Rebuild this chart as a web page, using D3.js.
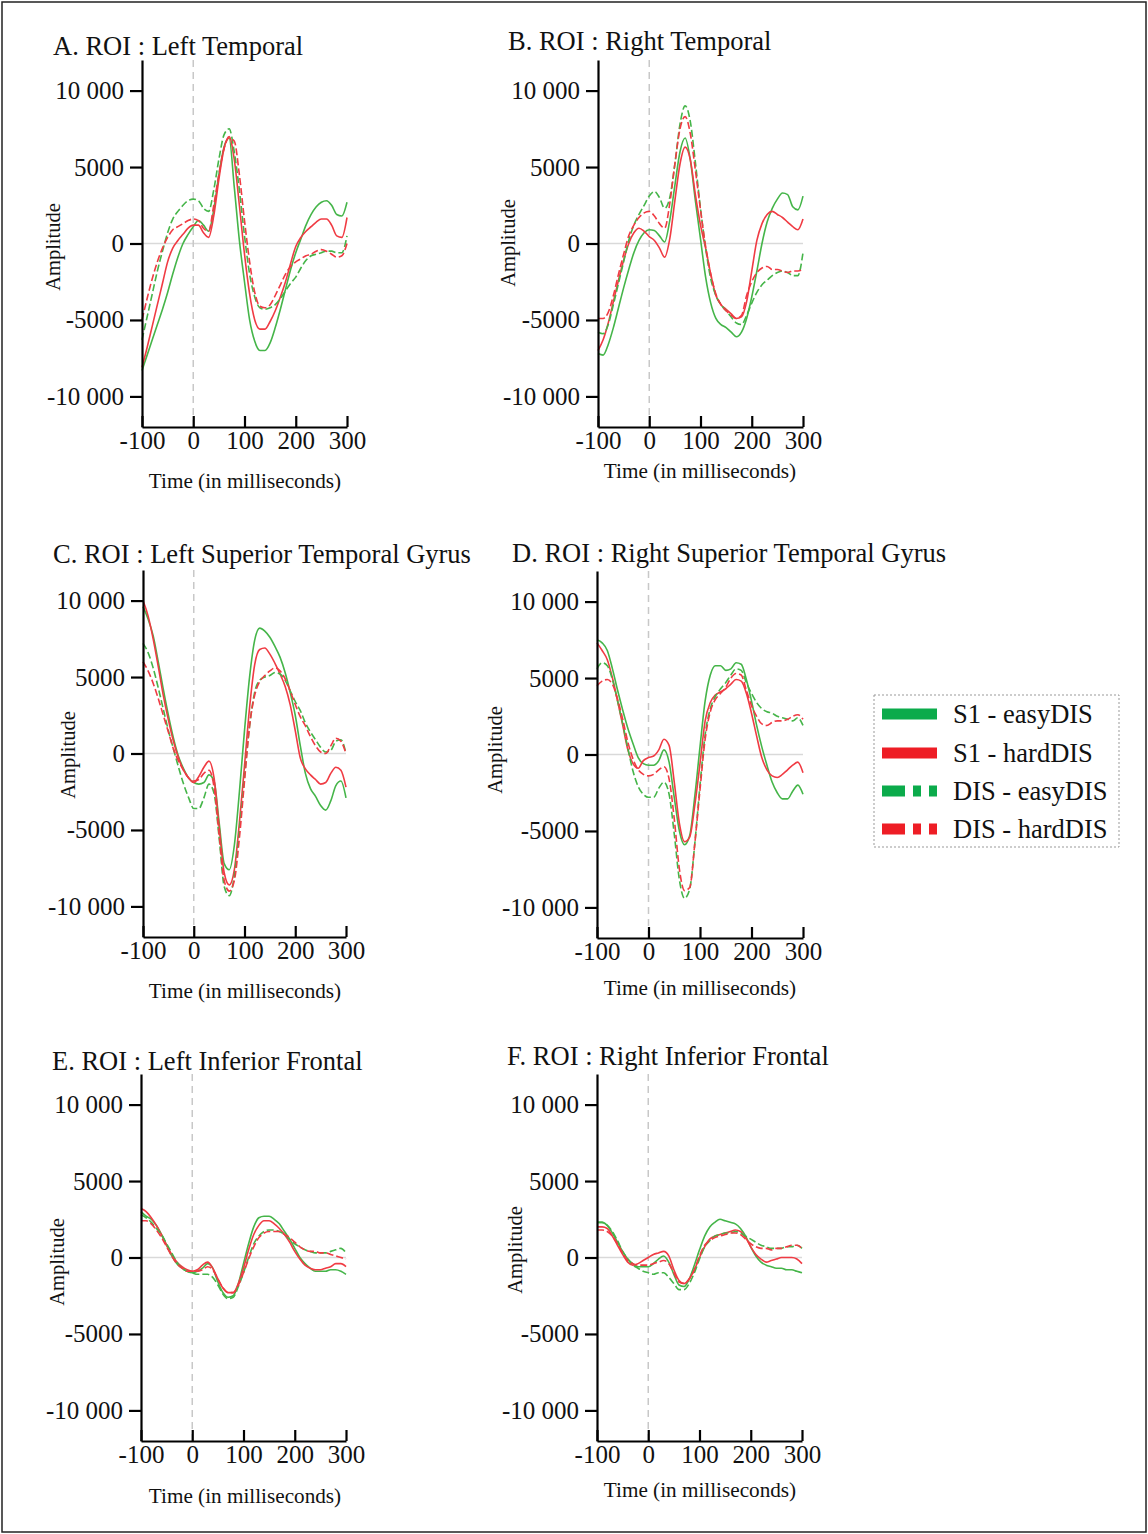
<!DOCTYPE html>
<html>
<head>
<meta charset="utf-8">
<script src="https://cdn.jsdelivr.net/npm/d3@7"></script>
<style>
  body { margin: 0; background: #fff; }
  text { font-family: "Liberation Serif", "Times New Roman", serif; fill: #111; }
</style>
</head>
<body>
<div id="chart"></div>
<script>
// sample times (ms)
const times = [-100, -90, -80, -70, -60, -50, -40, -30, -20, -10, 0, 10, 20, 30, 40, 50, 60, 70, 80, 90, 100,
  110, 120, 130, 140, 150, 160, 170, 180, 190, 200, 210, 220, 230, 240, 250, 260, 270, 280, 290, 300];

const seriesNames = ["S1 - easyDIS", "S1 - hardDIS", "DIS - easyDIS", "DIS - hardDIS"];
const panelTitles = ["A. ROI : Left Temporal", "B. ROI : Right Temporal", "C. ROI : Left Superior Temporal Gyrus",
  "D. ROI : Right Superior Temporal Gyrus", "E. ROI : Left Inferior Frontal", "F. ROI : Right Inferior Frontal"];
const yTicks = [-10000, -5000, 0, 5000, 10000];
const xTicks = [-100, 0, 100, 200, 300];

// A. Left Temporal
const ltS1Easy = [-8300, -7300, -6300, -5300, -4300, -3200, -2000, -900, 0, 600, 1100, 1500, 1200, 800, 2200, 4500, 6300, 6900, 3700, 200, -2500,
  -5000, -6400, -7000, -7000, -6500, -5500, -4300, -3000, -1700, -600, 300, 1200, 1900, 2400, 2700, 2800, 2500, 1900, 1800, 2700];
const ltS1Hard = [-8100, -6800, -5400, -4000, -2600, -1200, -300, 200, 600, 1000, 1200, 1200, 700, 400, 1800, 4200, 6200, 7000, 5500, 2500, -700,
  -3300, -5000, -5600, -5600, -5100, -4400, -3500, -2500, -1300, -200, 400, 800, 1100, 1400, 1600, 1600, 1200, 500, 400, 1700];
const ltDisEasy = [-6300, -4800, -3300, -1800, -500, 700, 1600, 2100, 2500, 2800, 2900, 2800, 2300, 2100, 3500, 5500, 7100, 7500, 6000, 3500, 500,
  -2000, -3500, -4200, -4300, -4200, -4000, -3600, -3100, -2600, -2200, -1600, -1100, -800, -700, -600, -500, -500, -600, -600, 500];
const ltDisHard = [-5000, -3600, -2300, -1200, -300, 400, 900, 1100, 1300, 1500, 1600, 1500, 1000, 800, 2500, 4500, 6200, 6900, 6700, 4500, 1500,
  -1200, -3200, -4100, -4200, -4000, -3400, -2700, -2000, -1500, -1200, -1000, -800, -700, -500, -400, -500, -700, -900, -800, 0];

// B. Right Temporal
const rtS1Easy = [-7200, -7300, -6600, -5500, -4200, -2900, -1700, -600, 200, 700, 900, 850, 500, 100, 1500, 3800, 6000, 6900, 5500, 2800, 300,
  -2200, -3900, -4900, -5300, -5500, -5800, -6100, -5800, -4900, -3500, -1800, 0, 1400, 2300, 2900, 3300, 3200, 2400, 2200, 3100];
const rtS1Hard = [-7000, -6300, -5200, -3800, -2400, -1100, 0, 700, 1000, 800, 450, 200, -300, -900, 300, 2800, 5200, 6300, 5500, 3200, 1200,
  -300, -2000, -3400, -4000, -4300, -4600, -4900, -4800, -3800, -1800, 200, 1300, 1900, 2100, 1900, 1700, 1400, 1100, 900, 1600];
const rtDisEasy = [-5800, -5900, -5300, -4000, -2600, -1200, 200, 1200, 1900, 2500, 3100, 3400, 3000, 2300, 3000, 5200, 7800, 9000, 8000, 5300, 2300,
  -300, -2300, -3400, -4000, -4400, -4800, -5200, -5300, -4700, -3900, -3200, -2700, -2400, -2100, -1900, -1800, -1900, -2100, -2100, -600];
const rtDisHard = [-4900, -4900, -4500, -3400, -2000, -700, 500, 1200, 1700, 2000, 2100, 1800, 1300, 1000, 2600, 5200, 7500, 8300, 7200, 4800, 2200,
  -200, -2000, -3300, -4000, -4400, -4700, -4900, -4700, -3400, -2500, -1900, -1600, -1500, -1700, -1700, -1800, -1900, -1800, -1800, -1700];

// C. Left Superior Temporal Gyrus
const lstgS1Easy = [9600, 8800, 7700, 6000, 4200, 2500, 1000, -200, -1000, -1600, -1900, -2000, -1900, -1400, -1800, -4500, -7200, -7600, -6000, -2500, 1500,
  5000, 7400, 8200, 8000, 7600, 7000, 6300, 5300, 4000, 2500, 500, -1300, -2300, -2800, -3400, -3700, -3100, -2100, -1800, -2900];
const lstgS1Hard = [10000, 9000, 7500, 5700, 3800, 2200, 800, -300, -1100, -1600, -1900, -1500, -900, -500, -1600, -4800, -7800, -8600, -7600, -4500, -800,
  3000, 5800, 6800, 6900, 6500, 5900, 5200, 4400, 3200, 1500, -300, -1000, -1400, -1700, -2000, -1900, -1300, -900, -1100, -2200];
const lstgDisEasy = [7200, 6600, 5600, 4300, 2900, 1500, 300, -900, -2000, -2900, -3600, -3600, -2900, -2000, -2600, -5500, -8700, -9300, -8000, -5000, -1500,
  1800, 4000, 4800, 5000, 5100, 5300, 5200, 4800, 4100, 3400, 2800, 2000, 1400, 900, 400, 100, 200, 800, 900, 0];
const lstgDisHard = [6000, 5400, 4600, 3600, 2500, 1400, 300, -500, -1100, -1600, -1800, -1700, -1300, -1100, -2200, -5300, -8300, -9000, -8300, -5500, -1800,
  1800, 3800, 4700, 5100, 5400, 5600, 5400, 4900, 4100, 3200, 2400, 1800, 1100, 500, 100, 0, 500, 1000, 800, 0];

// D. Right Superior Temporal Gyrus
const rstgS1Easy = [7500, 7300, 6800, 5600, 4200, 2900, 1700, 700, -200, -600, -700, -700, -400, 300, -500, -2800, -5000, -5900, -5300, -2700, 500,
  3500, 5200, 5800, 5800, 5500, 5600, 6000, 5900, 4900, 3500, 1900, 500, -700, -1800, -2500, -2900, -2900, -2400, -2000, -2600];
const rstgS1Hard = [7300, 6800, 6200, 5000, 3500, 1900, 300, -600, -900, -400, -200, -100, 300, 1000, 600, -1800, -4500, -5700, -5400, -3300, -600,
  2200, 3400, 3900, 4100, 4300, 4600, 4900, 4800, 4000, 2700, 1200, -200, -1000, -1400, -1500, -1300, -1000, -700, -500, -1200];
const rstgDisEasy = [5600, 6000, 5800, 4900, 3500, 2000, 400, -1100, -2100, -2600, -2800, -2800, -2200, -1800, -2600, -5200, -8200, -9400, -8800, -5800, -2000,
  1300, 3000, 3800, 4300, 4700, 5200, 5600, 5500, 4700, 4000, 3400, 3000, 2800, 2700, 2500, 2400, 2300, 2200, 2400, 1900];
const rstgDisHard = [4500, 4800, 4900, 4600, 3600, 2300, 800, -300, -1000, -1300, -1400, -1300, -1000, -800, -1600, -4200, -7500, -8900, -8700, -5800, -2300,
  1000, 2800, 3600, 4000, 4400, 5000, 5300, 5200, 4200, 3200, 2500, 2000, 1900, 2100, 2200, 2200, 2300, 2500, 2600, 2300];

// E. Left Inferior Frontal
const lifS1Easy = [3000, 2700, 2500, 2100, 1500, 800, 100, -400, -700, -900, -1000, -900, -700, -400, -700, -1600, -2300, -2600, -2500, -1700, -400,
  900, 2000, 2600, 2700, 2700, 2500, 2200, 1700, 1200, 600, 0, -400, -700, -900, -900, -900, -800, -800, -900, -1100];
const lifS1Hard = [3200, 3000, 2600, 2100, 1500, 800, 200, -300, -600, -800, -900, -800, -500, -300, -700, -1400, -2000, -2300, -2300, -1700, -700,
  500, 1500, 2100, 2400, 2400, 2200, 1900, 1500, 1000, 400, -100, -500, -700, -800, -800, -700, -600, -400, -400, -600];
const lifDisEasy = [2800, 2600, 2300, 1900, 1500, 900, 300, -300, -700, -900, -1000, -1100, -1100, -1100, -1300, -1800, -2400, -2700, -2600, -1900, -1000,
  0, 900, 1400, 1700, 1800, 1800, 1700, 1500, 1200, 900, 700, 500, 400, 300, 300, 300, 400, 500, 600, 300];
const lifDisHard = [2400, 2400, 2200, 1800, 1300, 700, 100, -400, -700, -900, -900, -900, -800, -600, -800, -1400, -2000, -2300, -2300, -1800, -1000,
  -100, 700, 1300, 1600, 1700, 1700, 1700, 1500, 1300, 1000, 700, 500, 400, 400, 300, 300, 200, 100, 0, -100];

// F. Right Inferior Frontal
const rifS1Easy = [2300, 2300, 2100, 1600, 1000, 400, -100, -400, -600, -600, -600, -400, -100, 100, -300, -1100, -1800, -1900, -1400, -500, 500,
  1400, 2000, 2300, 2500, 2400, 2300, 2200, 1900, 1400, 700, 100, -300, -500, -600, -700, -700, -800, -800, -900, -1000];
const rifS1Hard = [2000, 2000, 1900, 1400, 800, 200, -300, -500, -400, -200, 0, 200, 300, 400, 100, -800, -1500, -1700, -1400, -800, 0,
  700, 1200, 1400, 1500, 1600, 1700, 1800, 1700, 1300, 700, 200, -100, -300, -200, -100, 0, 0, 0, -100, -400];
const rifDisEasy = [2300, 2300, 2100, 1700, 1100, 400, -100, -500, -700, -900, -1000, -1100, -1000, -1000, -1300, -1700, -2100, -2100, -1700, -1000, -100,
  700, 1100, 1400, 1500, 1600, 1600, 1700, 1600, 1400, 1200, 1000, 800, 700, 600, 600, 600, 700, 700, 800, 600];
const rifDisHard = [1800, 1800, 1700, 1400, 900, 300, -200, -400, -500, -500, -500, -400, -300, -200, -400, -1000, -1600, -1700, -1400, -800, 100,
  800, 1100, 1300, 1400, 1500, 1600, 1600, 1500, 1200, 900, 700, 600, 600, 500, 600, 600, 700, 800, 800, 600];

const panelSeries = [
  [ltS1Easy, ltS1Hard, ltDisEasy, ltDisHard],
  [rtS1Easy, rtS1Hard, rtDisEasy, rtDisHard],
  [lstgS1Easy, lstgS1Hard, lstgDisEasy, lstgDisHard],
  [rstgS1Easy, rstgS1Hard, rstgDisEasy, rstgDisHard],
  [lifS1Easy, lifS1Hard, lifDisEasy, lifDisHard],
  [rifS1Easy, rifS1Hard, rifDisEasy, rifDisHard]
];

// placement of each panel on the page
const layout = [
  { x0: 142, x1: 347, bottom: 427, tx: 53, ty: 55, ax: 53, ay: 247, lx: 245, ly: 488 },
  { x0: 598, x1: 803, bottom: 427, tx: 508, ty: 50, ax: 508, ay: 243, lx: 700, ly: 478 },
  { x0: 143, x1: 346, bottom: 937, tx: 53, ty: 563, ax: 68, ay: 755, lx: 245, ly: 998 },
  { x0: 597, x1: 803, bottom: 938, tx: 512, ty: 562, ax: 495, ay: 750, lx: 700, ly: 995 },
  { x0: 141, x1: 346, bottom: 1441, tx: 52, ty: 1070, ax: 57, ay: 1262, lx: 245, ly: 1503 },
  { x0: 597, x1: 802, bottom: 1441, tx: 507, ty: 1065, ax: 515, ay: 1250, lx: 700, ly: 1497 }
];
const plotH = 367;

const lineColors = ["#45b549", "#f03b43", "#45b549", "#f03b43"];
const legendColors = ["#0bab4b", "#ee1d25", "#0bab4b", "#ee1d25"];

const W = 1148, H = 1534;

const svg = d3.select("#chart").append("svg")
  .attr("width", W)
  .attr("height", H);

// cornice esterna
svg.append("rect")
  .attr("x", 2).attr("y", 2)
  .attr("width", W - 4).attr("height", H - 4)
  .attr("fill", "none")
  .attr("stroke", "#222")
  .attr("stroke-width", 1.5);

const loc = d3.formatLocale({ decimal: ".", thousands: " ", grouping: [3], currency: ["", ""], minus: "-" });
const fmtBig = loc.format(",");
const fmtSmall = loc.format("d");
const yFormat = d => Math.abs(d) >= 10000 ? fmtBig(d) : fmtSmall(d);

panelSeries.forEach((series, i) => {
  const L = layout[i];

  const x = d3.scaleLinear().domain([-100, 300]).range([L.x0, L.x1]);
  const y = d3.scaleLinear().domain([-12000, 12000]).range([L.bottom, L.bottom - plotH]);

  const g = svg.append("g");

  // linea dello zero
  g.append("line")
    .attr("x1", L.x0).attr("x2", L.x1)
    .attr("y1", y(0)).attr("y2", y(0))
    .attr("stroke", "#d9d9d9").attr("stroke-width", 1.5);

  // linea tratteggiata a t = 0
  g.append("line")
    .attr("x1", x(0)).attr("x2", x(0))
    .attr("y1", L.bottom - plotH).attr("y2", L.bottom)
    .attr("stroke", "#c8c8c8").attr("stroke-width", 1.5)
    .attr("stroke-dasharray", "7,5");

  const line = d3.line()
    .x((d, k) => x(times[k]))
    .y(d => y(d))
    .curve(d3.curveMonotoneX);

  series.forEach((vals, s) => {
    g.append("path")
      .datum(vals)
      .attr("fill", "none")
      .attr("stroke", lineColors[s])
      .attr("stroke-width", 1.6)
      .attr("stroke-dasharray", s >= 2 ? "7,3" : null)
      .attr("d", line);
  });

  // asse Y
  const yAxis = g.append("g")
    .attr("transform", `translate(${L.x0},0)`)
    .call(d3.axisLeft(y).tickValues(yTicks).tickFormat(yFormat).tickSize(12).tickSizeOuter(0).tickPadding(6));
  yAxis.selectAll("text").style("font-size", "25px");

  // asse X (tacche verso l'interno)
  const xAxis = g.append("g")
    .attr("transform", `translate(0,${L.bottom})`)
    .call(d3.axisBottom(x).tickValues(xTicks).tickFormat(fmtSmall).tickSizeInner(-11).tickSizeOuter(0).tickPadding(4));
  xAxis.selectAll("text").style("font-size", "25px");

  [yAxis, xAxis].forEach(a => {
    a.selectAll("path, line").attr("stroke", "#000").attr("stroke-width", 2.2);
    a.selectAll("text").attr("fill", "#111");
  });

  // titolo
  g.append("text")
    .attr("x", L.tx).attr("y", L.ty)
    .style("font-size", "26.5px")
    .text(panelTitles[i]);

  g.append("text")
    .attr("transform", `translate(${L.ax},${L.ay}) rotate(-90)`)
    .attr("text-anchor", "middle")
    .attr("dy", "0.35em")
    .style("font-size", "20.5px")
    .text("Amplitude");

  g.append("text")
    .attr("x", L.lx).attr("y", L.ly)
    .attr("text-anchor", "middle")
    .style("font-size", "21.2px")
    .text("Time (in milliseconds)");
});

// legenda
const legend = svg.append("g").attr("transform", "translate(874,695)");
legend.append("rect")
  .attr("width", 245).attr("height", 152)
  .attr("fill", "none")
  .attr("stroke", "#999")
  .attr("stroke-width", 1)
  .attr("stroke-dasharray", "2,2");

const rowY = [19, 58, 96, 134];
seriesNames.forEach((name, s) => {
  legend.append("line")
    .attr("x1", 8).attr("x2", 63)
    .attr("y1", rowY[s]).attr("y2", rowY[s])
    .attr("stroke", legendColors[s])
    .attr("stroke-width", 11)
    .attr("stroke-dasharray", s >= 2 ? "23,8,8,8,8,100" : null);
  legend.append("text")
    .attr("x", 79).attr("y", rowY[s])
    .attr("dy", "0.35em")
    .style("font-size", "26.5px")
    .text(name);
});
</script>
</body>
</html>
